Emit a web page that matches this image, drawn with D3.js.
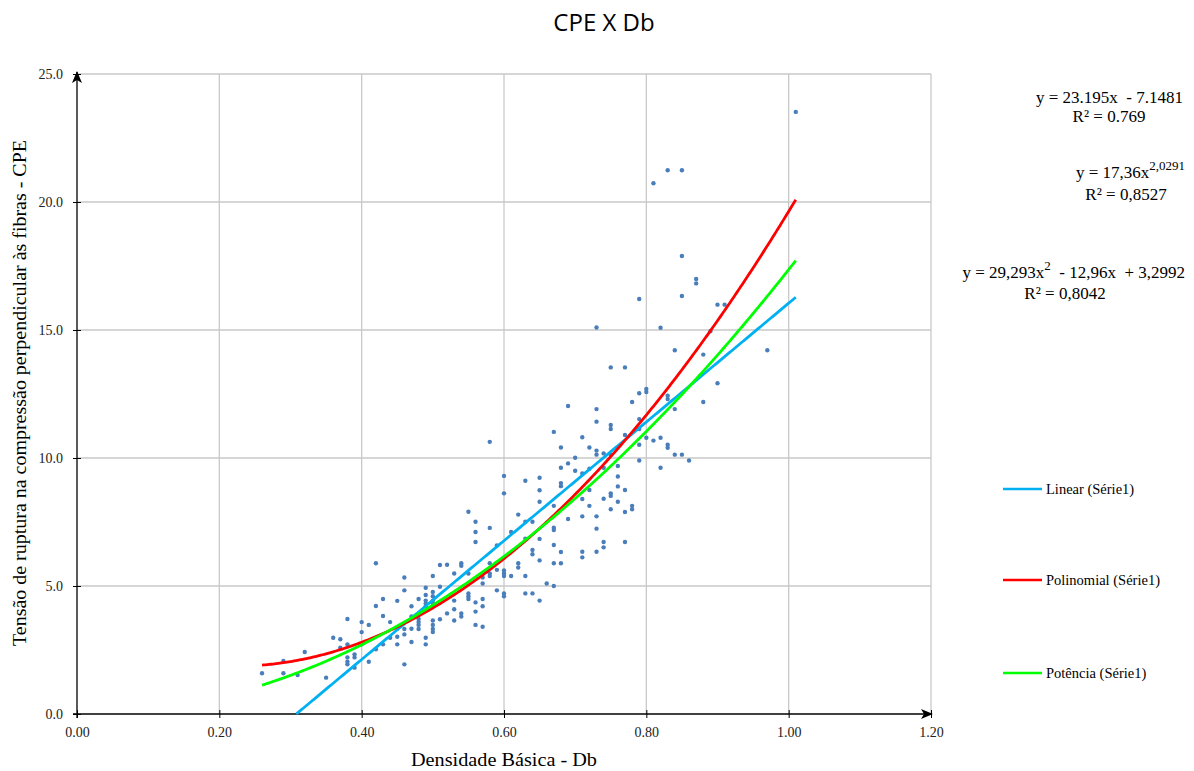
<!DOCTYPE html>
<html>
<head>
<meta charset="utf-8">
<script src="https://cdn.jsdelivr.net/npm/d3@7"></script>
<style>
  body { margin: 0; background: #fff; }
  svg { display: block; }
  text { white-space: pre; }
</style>
</head>
<body>
<svg id="chart" width="1194" height="771"></svg>
<script>
// Basic density (Db) columns and the CPE values measured at each one
const densidade = [0.26, 0.29, 0.31, 0.32, 0.35, 0.36, 0.37, 0.38, 0.39, 0.40,
  0.41, 0.42, 0.43, 0.44, 0.45, 0.46, 0.47, 0.48, 0.49, 0.50,
  0.51, 0.52, 0.53, 0.54, 0.55, 0.56, 0.57, 0.58, 0.59, 0.60,
  0.61, 0.62, 0.63, 0.64, 0.65, 0.66, 0.67, 0.68, 0.69, 0.70,
  0.71, 0.72, 0.73, 0.74, 0.75, 0.76, 0.77, 0.78, 0.79, 0.80,
  0.81, 0.82, 0.83, 0.84, 0.85, 0.86, 0.87, 0.88, 0.89, 0.90,
  0.91, 0.97, 1.01];

const cpe = [
  [1.59], [2.07, 1.59], [1.52], [2.42], [1.42], [2.98], [2.92, 2.59],
  [3.71, 2.72, 2.21, 2.04, 1.94], [2.33, 2.21, 1.81], [3.59, 3.20, 2.72],
  [3.48, 2.04], [5.89, 4.22, 2.53], [4.49, 3.83, 2.72], [3.59, 2.98],
  [4.42, 3.33, 3.02, 2.72], [5.33, 4.83, 3.32, 3.11, 1.94], [4.21, 3.81, 3.33, 2.81],
  [4.49, 3.71, 3.59, 3.48, 3.32], [4.93, 4.65, 4.43, 4.32, 4.21, 2.98, 2.72],
  [5.39, 4.77, 4.60, 4.43, 4.32, 4.21, 3.65, 3.48, 3.32, 3.20],
  [5.82, 4.97, 3.70], [5.83, 3.93], [5.49, 4.43, 4.09, 3.65], [5.89, 5.79, 3.93, 3.81],
  [7.90, 5.49, 4.71, 4.60, 4.49], [7.51, 7.11, 6.72, 4.36, 4.00, 3.48],
  [5.33, 5.10, 4.49, 4.21, 3.41], [10.63, 7.27, 5.89, 5.49, 5.39], [6.58, 5.63, 4.83],
  [9.30, 8.62, 5.61, 5.49, 5.39, 4.71, 4.60],
  [7.11, 5.39], [7.79, 5.89, 5.72], [9.11, 7.51, 6.85, 5.39, 4.71], [7.51, 6.41, 6.24, 4.71],
  [9.23, 8.74, 8.29, 6.84, 6.00, 4.43], [5.10], [11.02, 8.13, 7.28, 7.19, 6.60, 5.89, 5.00],
  [10.41, 9.62, 9.02, 8.90, 6.33, 5.89], [12.03, 9.79, 7.62], [10.01, 9.50],
  [10.81, 9.40, 8.40, 7.72, 6.34, 6.12], [10.41, 9.58, 8.75, 8.13],
  [15.10, 11.91, 11.42, 10.29, 10.13, 7.72, 7.24, 6.34], [10.18, 9.62, 8.41, 6.72, 6.51],
  [13.54, 11.29, 11.13, 10.13, 8.62, 8.52, 8.00], [9.69, 9.28, 8.89, 8.29],
  [13.54, 10.90, 8.75, 7.89, 6.72], [12.19, 8.13, 8.00],
  [16.21, 12.53, 11.52, 11.13, 10.52, 9.90], [12.70, 12.58, 10.79],
  [20.73, 10.68], [15.09, 10.79, 9.62], [21.24, 12.43, 12.30, 10.52, 10.40],
  [14.21, 11.91, 10.13], [21.24, 17.89, 16.33, 10.13], [9.90], [16.99, 16.82],
  [14.04, 12.19], [14.95], [15.99, 12.92], [15.99], [14.21], [23.52]
];

const xTicks = [0, 0.2, 0.4, 0.6, 0.8, 1.0, 1.2];
const yTicks = [0, 5, 10, 15, 20, 25];

// Trendline coefficients
const linearCoef = { a: 23.195, b: -7.1481 };
const poliCoef = { a: 29.293, b: -12.96, c: 3.2992 };
const potenciaCoef = { a: 17.36, p: 2.0291 };
const trendRange = [0.26, 1.01];

const legendLabels = ["Linear (Série1)", "Polinomial (Série1)", "Potência (Série1)"];
const trendColors = ["#00b0f0", "#ff0000", "#00ff00"];

const svg = d3.select("#chart");
const serif = "'Liberation Serif', 'Times New Roman', serif";

const x = d3.scaleLinear().domain([0, 1.2]).range([77, 931]);
const y = d3.scaleLinear().domain([0, 25]).range([714, 74]);

// Gridlines
svg.append("g").selectAll("line").data(xTicks.filter(d => d > 0)).join("line")
  .attr("x1", d => x(d)).attr("x2", d => x(d))
  .attr("y1", y(25)).attr("y2", y(0))
  .attr("stroke", "#c9c9c9").attr("stroke-width", 1.3);
svg.append("g").selectAll("line").data(yTicks.filter(d => d > 0)).join("line")
  .attr("x1", x(0)).attr("x2", x(1.2))
  .attr("y1", d => y(d)).attr("y2", d => y(d))
  .attr("stroke", "#c9c9c9").attr("stroke-width", 1.3);

// Arrowhead for both axes
const defs = svg.append("defs");
defs.append("marker")
  .attr("id", "arrow").attr("viewBox", "0 0 12 10")
  .attr("refX", 11).attr("refY", 5)
  .attr("markerWidth", 12).attr("markerHeight", 10)
  .attr("markerUnits", "userSpaceOnUse")
  .attr("orient", "auto")
  .append("path").attr("d", "M0,0 L12,5 L0,10 L3,5 Z").attr("fill", "#000");

// Axes (ticks cross the axis line)
const xAxis = svg.append("g").attr("transform", `translate(0,${y(0)})`)
  .call(d3.axisBottom(x).tickValues(xTicks).tickFormat(d3.format(".2f")).tickSize(4).tickPadding(9));
xAxis.select(".domain").remove();
xAxis.selectAll(".tick line").attr("y1", -4).attr("y2", 4).attr("stroke", "#000");
xAxis.selectAll(".tick text").attr("font-family", serif).attr("font-size", 14).attr("fill", "#222");

const yAxis = svg.append("g").attr("transform", `translate(${x(0)},0)`)
  .call(d3.axisLeft(y).tickValues(yTicks).tickFormat(d3.format(".1f")).tickSize(4).tickPadding(10));
yAxis.select(".domain").remove();
yAxis.selectAll(".tick line").attr("x1", -4).attr("x2", 4).attr("stroke", "#000");
yAxis.selectAll(".tick text").attr("font-family", serif).attr("font-size", 14).attr("fill", "#222");

svg.append("line")
  .attr("x1", x(0) - 4).attr("x2", x(1.2) + 1)
  .attr("y1", y(0)).attr("y2", y(0))
  .attr("stroke", "#000").attr("stroke-width", 1.3)
  .attr("marker-end", "url(#arrow)");
svg.append("line")
  .attr("x1", x(0)).attr("x2", x(0))
  .attr("y1", y(0) + 4).attr("y2", y(25) - 2)
  .attr("stroke", "#000").attr("stroke-width", 1.3)
  .attr("marker-end", "url(#arrow)");

// Scatter points
const pontos = densidade.flatMap((d, i) => cpe[i].map(v => ({ db: d, cpe: v })));
svg.append("g").selectAll("circle").data(pontos).join("circle")
  .attr("cx", d => x(d.db)).attr("cy", d => y(d.cpe))
  .attr("r", 2.2).attr("fill", "#4a7ebb");

// Trendlines
const sampleX = d3.range(trendRange[0], trendRange[1] + 1e-9, 0.0025);
const trends = [
  t => linearCoef.a * t + linearCoef.b,
  t => poliCoef.a * t * t + poliCoef.b * t + poliCoef.c,
  t => potenciaCoef.a * Math.pow(t, potenciaCoef.p)
];
const line = d3.line().x(d => x(d[0])).y(d => y(d[1]));
trends.forEach((f, i) => {
  const pts = sampleX.map(t => [t, f(t)]).filter(d => d[1] >= 0);
  if (i === 0) pts.unshift([-linearCoef.b / linearCoef.a, 0]);
  svg.append("path").datum(pts)
    .attr("d", line).attr("fill", "none")
    .attr("stroke", trendColors[i]).attr("stroke-width", 2.8);
});

// Title
svg.append("text")
  .attr("x", 604).attr("y", 31).attr("text-anchor", "middle")
  .attr("font-family", "'Open Sans', sans-serif").attr("font-size", 24).attr("fill", "#000")
  .text("CPE X Db");

// Axis titles
svg.append("text")
  .attr("transform", "translate(26,393) rotate(-90)").attr("text-anchor", "middle")
  .attr("font-family", serif).attr("font-size", 18).attr("fill", "#000")
  .attr("textLength", 506).attr("lengthAdjust", "spacingAndGlyphs")
  .text("Tensão de ruptura na compressão perpendicular às fibras - CPE");
svg.append("text")
  .attr("x", 504).attr("y", 766).attr("text-anchor", "middle")
  .attr("font-family", serif).attr("font-size", 18).attr("fill", "#000")
  .attr("textLength", 186).attr("lengthAdjust", "spacingAndGlyphs")
  .text("Densidade Básica - Db");

// Trendline equations
const eq = svg.append("g").attr("font-family", serif).attr("font-size", 17).attr("fill", "#000");
eq.append("text").attr("x", 1183).attr("y", 103).attr("text-anchor", "end").text("y = 23.195x  - 7.1481");
eq.append("text").attr("x", 1109).attr("y", 122).attr("text-anchor", "middle").text("R² = 0.769");

const eq2 = eq.append("text").attr("x", 1185).attr("y", 178).attr("text-anchor", "end");
eq2.append("tspan").text("y = 17,36x");
eq2.append("tspan").attr("dy", -8).attr("font-size", 13).text("2,0291");
eq.append("text").attr("x", 1126).attr("y", 200).attr("text-anchor", "middle").text("R² = 0,8527");

const eq3 = eq.append("text").attr("x", 1185).attr("y", 278).attr("text-anchor", "end");
eq3.append("tspan").text("y = 29,293x");
eq3.append("tspan").attr("dy", -8).attr("font-size", 13).text("2");
eq3.append("tspan").attr("dy", 8).text("  - 12,96x  + 3,2992");
eq.append("text").attr("x", 1065).attr("y", 299).attr("text-anchor", "middle").text("R² = 0,8042");

// Legend
const legendY = [489, 580, 673];
const legend = svg.append("g");
legendLabels.forEach((lab, i) => {
  legend.append("line")
    .attr("x1", 1003).attr("x2", 1042).attr("y1", legendY[i]).attr("y2", legendY[i])
    .attr("stroke", trendColors[i]).attr("stroke-width", 2.6);
  legend.append("text")
    .attr("x", 1046).attr("y", legendY[i] + 5)
    .attr("font-family", serif).attr("font-size", 14.5).attr("fill", "#000")
    .text(lab);
});
</script>
</body>
</html>
